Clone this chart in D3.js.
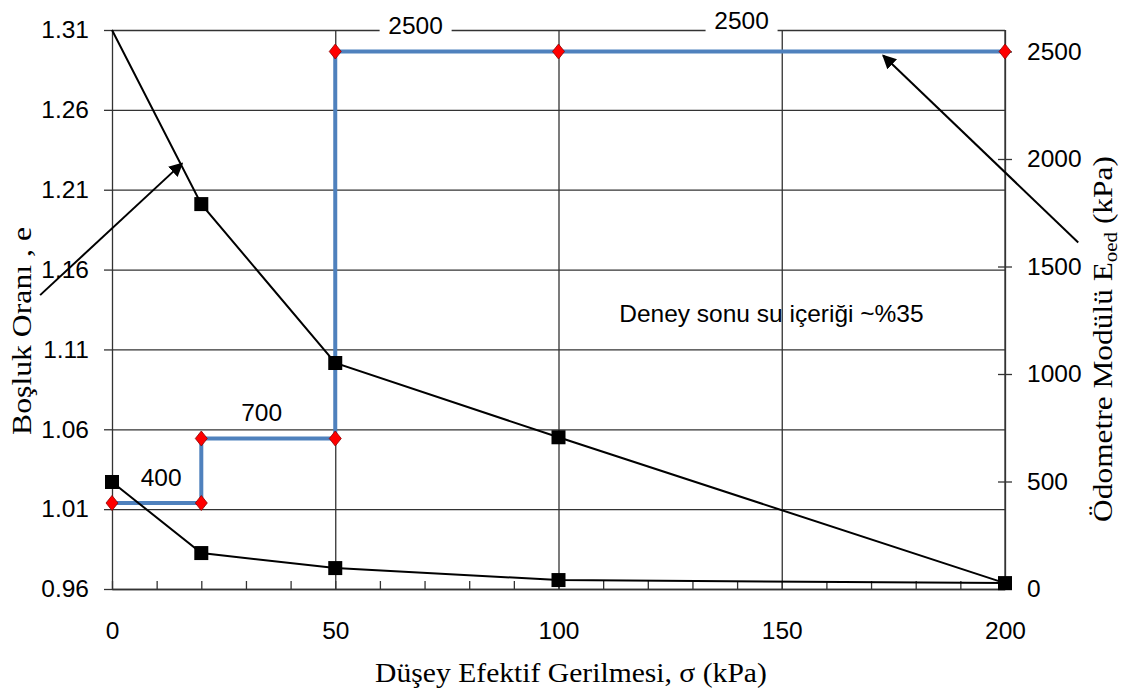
<!DOCTYPE html>
<html>
<head>
<meta charset="utf-8">
<script src="https://cdn.jsdelivr.net/npm/d3@7"></script>
<style>
  body { margin: 0; background: #fff; }
  svg { display: block; }
  .tick text { font-family: "Liberation Sans", Arial, sans-serif; font-size: 24.5px; fill: #000; }
  .title { font-family: "Liberation Serif", "Times New Roman", serif; font-size: 27px; fill: #000; }
  .note { font-family: "Liberation Sans", Arial, sans-serif; font-size: 24.5px; fill: #000; }
</style>
</head>
<body>
<svg></svg>
<script>
// void ratio curve: loading then unloading
let sigma = [0, 20, 50, 100, 200, 100, 50, 20, 0];
let voidRatio = [1.31, 1.201, 1.1015, 1.055, 0.9637, 0.9656, 0.9731, 0.9825, 1.027];

// oedometer modulus (step line)
let stepSigma = [0, 20, 20, 50, 50, 100, 200];
let stepModulus = [400, 400, 700, 700, 2500, 2500, 2500];

let xTicks = [0, 50, 100, 150, 200];
let xMinor = [0, 10, 20, 30, 40, 50, 60, 70, 80, 90, 100, 110, 120, 130, 140, 150, 160, 170, 180, 190, 200];
let eTicks = [0.96, 1.01, 1.06, 1.11, 1.16, 1.21, 1.26, 1.31];
let mTicks = [0, 500, 1000, 1500, 2000, 2500];

// labels on the modulus steps (sigma, modulus, text)
let stepLabelText = ["400", "700", "2500", "2500"];
let stepLabelSigma = [11, 33.5, 68, 141];
let stepLabelModulus = [520, 823, 2622, 2645];

let width = 1125;
let height = 693;
let padL = 112, padR = 1005, padT = 30, padB = 589;

let svg = d3.select("svg").attr("width", width).attr("height", height);

let defs = svg.append("defs");
defs.append("marker")
    .attr("id", "head")
    .attr("viewBox", "0 0 10 10")
    .attr("refX", 9).attr("refY", 5)
    .attr("markerWidth", 7).attr("markerHeight", 7)
    .attr("markerUnits", "strokeWidth")
    .attr("orient", "auto")
  .append("path")
    .attr("d", "M0,0 L10,5 L0,10 z")
    .attr("fill", "#000");

let xScale = d3.scaleLinear().domain([0, 200]).range([padL, padR]);
let yLeft = d3.scaleLinear().domain([0.96, 1.31]).range([padB, padT]);
let yRight = d3.scaleLinear().domain([0, 2600]).range([padB, padT]);

// horizontal grid
svg.append("g")
    .attr("transform", "translate(" + padL + ",0)")
    .call(d3.axisLeft(yLeft).tickValues(eTicks).tickSize(-(padR - padL)).tickFormat(""))
    .call(g => g.select(".domain").remove())
    .selectAll("line").attr("stroke", "#333").attr("stroke-width", 1.3);

// vertical grid
svg.append("g")
    .attr("transform", "translate(0," + padB + ")")
    .call(d3.axisBottom(xScale).tickValues(xTicks.slice(1)).tickSize(-(padB - padT)).tickFormat(""))
    .call(g => g.select(".domain").remove())
    .selectAll("line").attr("stroke", "#333").attr("stroke-width", 1.3);

// minor ticks on x axis (inside)
svg.append("g")
    .attr("transform", "translate(0," + padB + ")")
    .call(d3.axisBottom(xScale).tickValues(xMinor).tickSize(-8).tickFormat(""))
    .call(g => g.select(".domain").remove())
    .selectAll("line").attr("stroke", "#333").attr("stroke-width", 1.3);

// x labels
svg.append("g")
    .attr("transform", "translate(0," + padB + ")")
    .call(d3.axisBottom(xScale).tickValues(xTicks).tickSize(0).tickPadding(33).tickFormat(d3.format("d")))
    .call(g => g.select(".domain").attr("stroke", "#333").attr("stroke-width", 1.3));

// left axis
svg.append("g")
    .attr("transform", "translate(" + padL + ",0)")
    .call(d3.axisLeft(yLeft).tickValues(eTicks).tickSizeInner(8).tickSizeOuter(0).tickPadding(15).tickFormat(d3.format(".2f")))
    .call(g => g.selectAll("line, .domain").attr("stroke", "#333").attr("stroke-width", 1.3));

// right axis
svg.append("g")
    .attr("transform", "translate(" + padR + ",0)")
    .call(d3.axisRight(yRight).tickValues(mTicks).tickSizeInner(7).tickSizeOuter(0).tickPadding(15).tickFormat(d3.format("d")))
    .call(g => g.selectAll("line").attr("x1", -7))
    .call(g => g.selectAll("line, .domain").attr("stroke", "#333").attr("stroke-width", 1.3))
    .call(g => g.select(".domain").attr("d", "M0," + padB + "V" + padT));

// step line
let stepData = stepSigma.map((s, i) => [s, stepModulus[i]]);
svg.append("path")
    .datum(stepData)
    .attr("fill", "none")
    .attr("stroke", "#4F81BD")
    .attr("stroke-width", 4)
    .attr("d", d3.line().x(d => xScale(d[0])).y(d => yRight(d[1])));

// void ratio line
let eData = sigma.map((s, i) => [s, voidRatio[i]]);
svg.append("path")
    .datum(eData)
    .attr("fill", "none")
    .attr("stroke", "#000")
    .attr("stroke-width", 2)
    .attr("d", d3.line().x(d => xScale(d[0])).y(d => yLeft(d[1])));

svg.append("g").selectAll("rect")
    .data(eData.slice(1))
    .join("rect")
    .attr("x", d => xScale(d[0]) - 7)
    .attr("y", d => yLeft(d[1]) - 7)
    .attr("width", 14).attr("height", 14)
    .attr("fill", "#000");

svg.append("g").selectAll("path")
    .data(stepData)
    .join("path")
    .attr("transform", d => "translate(" + xScale(d[0]) + "," + yRight(d[1]) + ")")
    .attr("d", "M0,-7.5 L6,0 L0,7.5 L-6,0 Z")
    .attr("fill", "#FF0000")
    .attr("stroke", "#8B0000")
    .attr("stroke-width", 0.8);

// step labels
let labels = svg.append("g").selectAll("g")
    .data(stepLabelText.map((t, i) => ({ t: t, s: stepLabelSigma[i], m: stepLabelModulus[i] })))
    .join("g")
    .attr("transform", d => "translate(" + xScale(d.s) + "," + yRight(d.m) + ")");
labels.filter(d => d.m > 2600).append("rect")
    .attr("x", -36).attr("y", -14).attr("width", 72).attr("height", 28)
    .attr("fill", "#fff");
labels.append("text")
    .attr("class", "note")
    .attr("text-anchor", "middle")
    .attr("dy", "0.35em")
    .text(d => d.t);

// note
svg.append("text")
    .attr("class", "note")
    .attr("x", xScale(113.6))
    .attr("y", yLeft(1.1328))
    .attr("dy", "0.35em")
    .text("Deney sonu su içeriği ~%35");

// arrows
svg.append("line")
    .attr("x1", xScale(-16.1)).attr("y1", yLeft(1.144))
    .attr("x2", xScale(15.7)).attr("y2", yLeft(1.2265))
    .attr("stroke", "#000").attr("stroke-width", 2)
    .attr("marker-end", "url(#head)");
svg.append("line")
    .attr("x1", xScale(216.4)).attr("y1", yRight(1612))
    .attr("x2", xScale(172.7)).attr("y2", yRight(2481))
    .attr("stroke", "#000").attr("stroke-width", 2)
    .attr("marker-end", "url(#head)");

// axis titles, stretched along their length to match the original
let fitTitle = (sel, x, y, rot, len) => {
    let w = sel.node().getComputedTextLength();
    sel.attr("transform", "translate(" + x + "," + y + ") rotate(" + rot + ") scale(" + (len / w) + ",1)");
};

let lt = svg.append("text")
    .attr("class", "title")
    .attr("text-anchor", "middle")
    .attr("dy", "0.33em")
    .text("Boşluk Oranı , e");
fitTitle(lt, 22, 331, -90, 208);

let rt = svg.append("text")
    .attr("class", "title")
    .attr("text-anchor", "middle")
    .attr("dy", "0.33em");
rt.append("tspan").text("Ödometre Modülü E");
rt.append("tspan").attr("font-size", "18px").attr("dy", "5").text("oed");
rt.append("tspan").attr("dy", "-5").text(" (kPa)");
fitTitle(rt, 1103, 339, -90, 366);

let bt = svg.append("text")
    .attr("class", "title")
    .attr("text-anchor", "middle")
    .text("Düşey Efektif Gerilmesi, σ (kPa)");
fitTitle(bt, 571, 682, 0, 392);
</script>
</body>
</html>
